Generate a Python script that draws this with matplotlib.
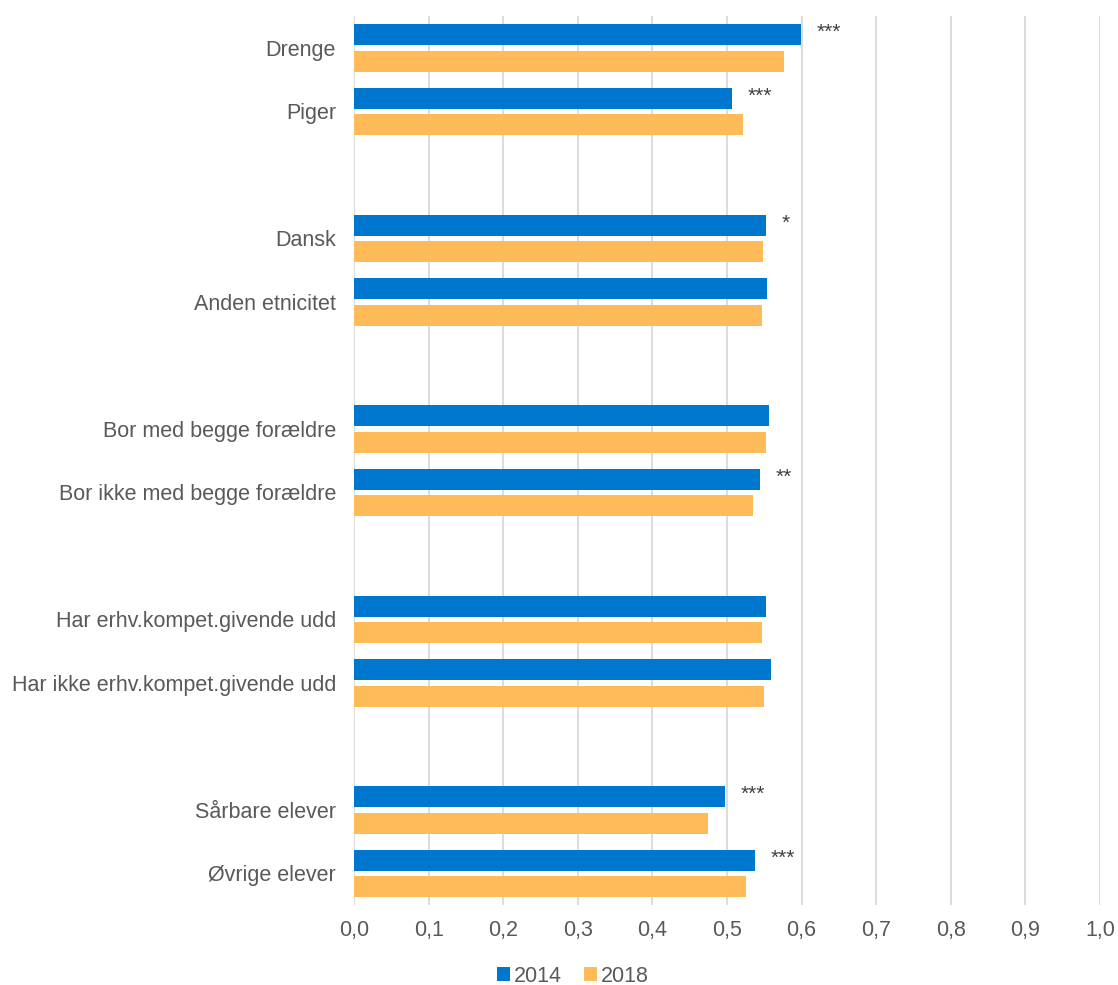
import numpy as np
import matplotlib.pyplot as plt

plt.rcParams['font.family'] = ['Liberation Sans', 'DejaVu Sans']

categories = ['Drenge', 'Piger',
              'Dansk', 'Anden etnicitet',
              'Bor med begge forældre', 'Bor ikke med begge forældre',
              'Har erhv.kompet.givende udd', 'Har ikke erhv.kompet.givende udd',
              'Sårbare elever', 'Øvrige elever']
v2014 = [0.599, 0.507, 0.552, 0.554, 0.556, 0.544, 0.552, 0.559, 0.497, 0.537]
v2018 = [0.577, 0.521, 0.548, 0.547, 0.552, 0.535, 0.547, 0.550, 0.475, 0.526]
stars = ['***', '***', '*', '', '', '**', '', '', '***', '***']
xticks = np.arange(0, 1.01, 0.1)
xticklabels = ['0,0', '0,1', '0,2', '0,3', '0,4', '0,5', '0,6', '0,7', '0,8', '0,9', '1,0']

blue = '#0077CF'
orange = '#FFBA5A'
grey = '#595959'

# two categories per group, one empty slot between groups
idx = np.arange(len(categories))
pos = idx + idx // 2

fig = plt.figure(figsize=(11.18, 9.85), dpi=100)
ax = fig.add_axes([354/1118, 1 - 905/985, (1100-354)/1118, (905-16)/985])

h = 0.33
ax.barh(pos - 0.205, v2014, height=h, color=blue, label='2014', zorder=2)
ax.barh(pos + 0.213, v2018, height=h, color=orange, label='2018', zorder=2)

for p, v, s in zip(pos, v2014, stars):
    if s:
        ax.text(v + 0.021, p - 0.205 + 0.05, s, ha='left', va='baseline',
                fontsize=15, color='#404040')

ax.set_ylim(pos[-1] + 0.5, -0.5)
ax.set_xlim(0, 1.0)
ax.set_yticks(pos)
ax.set_yticklabels(categories)
ax.set_xticks(xticks)
ax.set_xticklabels(xticklabels)
ax.tick_params(axis='both', length=0, labelsize=15.5, colors=grey)
ax.tick_params(axis='y', pad=13)
ax.tick_params(axis='x', pad=11)
for s in ax.spines.values():
    s.set_visible(False)
ax.xaxis.grid(True, color='#D9D9D9', linewidth=1.3)
ax.set_axisbelow(True)

leg = fig.legend(loc='center', bbox_to_anchor=(573/1118, 1 - 976/985), ncol=2,
                 frameon=False, fontsize=15.5, handlelength=0.6, handleheight=0.6,
                 handletextpad=0.2, columnspacing=1.0)
for t in leg.get_texts():
    t.set_color(grey)

fig.savefig('out.png', dpi=100)
